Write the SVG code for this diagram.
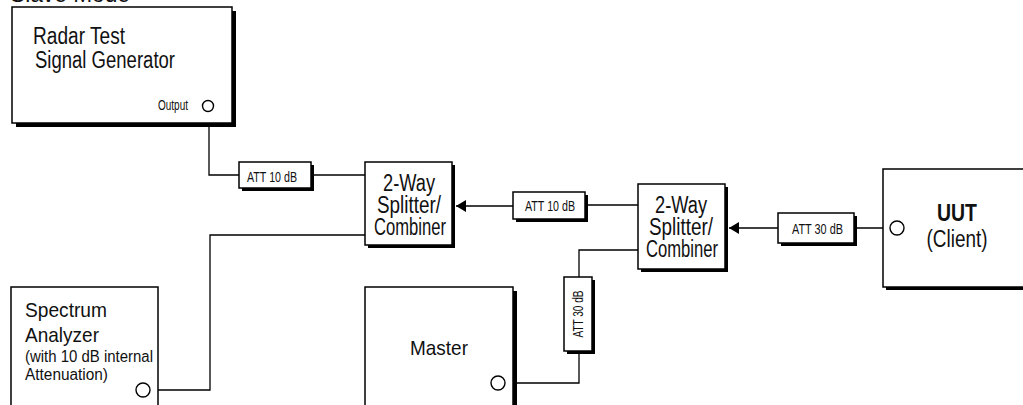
<svg xmlns="http://www.w3.org/2000/svg" width="1023" height="405" viewBox="0 0 1023 405">
<style>
.box{fill:#fff;stroke:#000;stroke-width:1.5}
.sh{fill:#000}
.ln{fill:none;stroke:#000;stroke-width:1.3}
.port{fill:#fff;stroke:#000;stroke-width:1.4}
text{font-family:"Liberation Sans",Arial,sans-serif;fill:#111}
.big{font-size:23px}
.mid{font-size:21px}
.sm{font-size:16px}
.att{font-size:14px}
.c{text-anchor:middle}
</style>
<defs>
<marker id="ah" markerUnits="userSpaceOnUse" markerWidth="11" markerHeight="12" refX="10" refY="6" orient="auto">
<path d="M0,0 L10,6 L0,12 z" fill="#000"/>
</marker>
</defs>
<rect width="1023" height="405" fill="#fff"/>
<text class="big" x="10" y="2" textLength="120" lengthAdjust="spacingAndGlyphs">Slave Mode</text>

<g id="connectors">
<path class="ln" d="M209,112 V175 H239"/>
<path class="ln" d="M311,175 H365"/>
<path class="ln" d="M365,235 H210 V390 H150"/>
<path class="ln" d="M513,206 H456" marker-end="url(#ah)"/>
<path class="ln" d="M638,205 H585"/>
<path class="ln" d="M778,228 H729" marker-end="url(#ah)"/>
<path class="ln" d="M890,228 H854"/>
<path class="ln" d="M638,250 H579 V277"/>
<path class="ln" d="M579,351 V383 H505"/>
</g>

<g id="radar">
<rect class="sh" x="16" y="11" width="220" height="116"/>
<rect class="box" x="12" y="7" width="220" height="116"/>
<text class="big" x="33" y="44" textLength="92" lengthAdjust="spacingAndGlyphs">Radar Test</text>
<text class="big" x="35" y="68" textLength="140" lengthAdjust="spacingAndGlyphs">Signal Generator</text>
<text class="att" x="158" y="110" textLength="30" lengthAdjust="spacingAndGlyphs">Output</text>
<circle class="port" cx="208" cy="106" r="5.5"/>
</g>

<g id="att1">
<rect class="sh" x="242" y="165" width="72" height="26"/>
<rect class="box" x="239" y="162" width="72" height="26"/>
<text class="att" x="247" y="182" textLength="50" lengthAdjust="spacingAndGlyphs">ATT 10 dB</text>
</g>

<g id="splitter1">
<rect class="sh" x="368" y="165" width="87" height="83"/>
<rect class="box" x="365" y="162" width="87" height="83"/>
<text class="big c" x="409" y="191" textLength="52" lengthAdjust="spacingAndGlyphs">2-Way</text>
<text class="big c" x="409" y="213" textLength="64" lengthAdjust="spacingAndGlyphs">Splitter/</text>
<text class="big c" x="410" y="235" textLength="72" lengthAdjust="spacingAndGlyphs">Combiner</text>
</g>

<g id="att2">
<rect class="sh" x="516" y="195" width="72" height="27"/>
<rect class="box" x="513" y="192" width="72" height="27"/>
<text class="att" x="525" y="211" textLength="50" lengthAdjust="spacingAndGlyphs">ATT 10 dB</text>
</g>

<g id="splitter2">
<rect class="sh" x="641" y="187" width="87" height="85"/>
<rect class="box" x="638" y="184" width="87" height="85"/>
<text class="big c" x="681" y="213" textLength="52" lengthAdjust="spacingAndGlyphs">2-Way</text>
<text class="big c" x="681" y="235" textLength="64" lengthAdjust="spacingAndGlyphs">Splitter/</text>
<text class="big c" x="682" y="257" textLength="72" lengthAdjust="spacingAndGlyphs">Combiner</text>
</g>

<g id="att3">
<rect class="sh" x="781" y="216" width="76" height="30"/>
<rect class="box" x="778" y="213" width="76" height="30"/>
<text class="att" x="792" y="234" textLength="51" lengthAdjust="spacingAndGlyphs">ATT 30 dB</text>
</g>

<g id="uut">
<rect class="sh" x="886" y="172" width="160" height="118"/>
<rect class="box" x="883" y="169" width="160" height="118"/>
<circle class="port" cx="897" cy="228" r="7"/>
<text class="big c" x="957" y="221" font-weight="bold" textLength="40" lengthAdjust="spacingAndGlyphs">UUT</text>
<text class="big c" x="957" y="247" textLength="61" lengthAdjust="spacingAndGlyphs">(Client)</text>
</g>

<g id="spectrum">
<rect class="box" x="11" y="287" width="147" height="130"/>
<text class="mid" x="25" y="317" textLength="82" lengthAdjust="spacingAndGlyphs">Spectrum</text>
<text class="mid" x="25" y="342" textLength="74" lengthAdjust="spacingAndGlyphs">Analyzer</text>
<text class="sm" x="25" y="362" textLength="128" lengthAdjust="spacingAndGlyphs">(with 10 dB internal</text>
<text class="sm" x="25" y="380" textLength="83" lengthAdjust="spacingAndGlyphs">Attenuation)</text>
<circle class="port" cx="143" cy="390" r="7"/>
</g>

<g id="master">
<rect class="sh" x="369" y="291" width="148" height="130"/>
<rect class="box" x="365" y="287" width="148" height="130"/>
<text class="mid" x="410" y="355" font-size="22" textLength="58" lengthAdjust="spacingAndGlyphs">Master</text>
<circle class="port" cx="498" cy="383" r="7"/>
</g>

<g id="att4">
<rect class="sh" x="567" y="280" width="28" height="74"/>
<rect class="box" x="564" y="277" width="28" height="74"/>
<text class="att c" transform="translate(583,314) rotate(-90)" x="0" y="0" textLength="47" lengthAdjust="spacingAndGlyphs">ATT 30 dB</text>
</g>
</svg>
